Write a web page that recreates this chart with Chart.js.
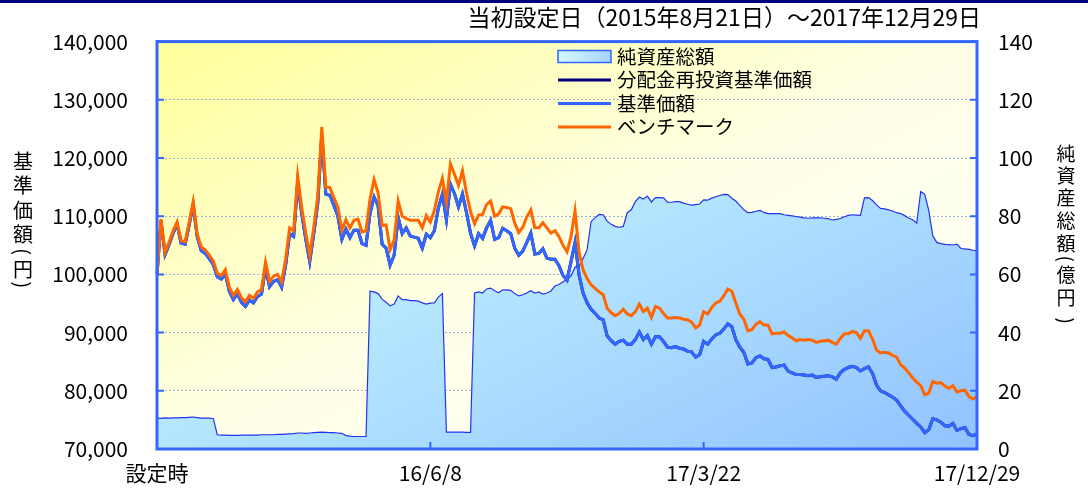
<!DOCTYPE html>
<html><head><meta charset="utf-8">
<script src="https://cdn.jsdelivr.net/npm/chart.js@4.4.1/dist/chart.umd.min.js"></script>
<style>html,body{margin:0;padding:0;background:#fff;}canvas{display:block;}</style>
</head><body>
<canvas id="c" width="1088" height="492" style="width:1088px;height:492px"></canvas>
<script>
const titleText = '当初設定日（2015年8月21日）～2017年12月29日';
const tickLabels = ['設定時', '16/6/8', '17/3/22', '17/12/29'];
const tickIndex = [0, 68, 136, 204];
const seriesNames = ['純資産総額', '分配金再投資基準価額', '基準価額', 'ベンチマーク'];
const leftAxisTitle = ['基', '準', '価', '額', '(', '円', ')'];
const rightAxisTitle = ['純', '資', '産', '総', '額', '(', '億', '円', ')'];

// 純資産総額（億円）
const netAssets = [
10.6,10.5,10.7,10.6,10.7,10.7,10.8,10.8,10.9,11.0,
10.8,10.6,10.6,10.6,10.5,4.9,4.8,4.8,4.7,4.7,
4.7,4.8,4.8,4.8,4.8,4.8,4.9,4.9,4.9,4.9,
5.0,5.0,5.1,5.2,5.3,5.5,5.5,5.4,5.5,5.6,
5.7,5.8,5.7,5.6,5.6,5.5,5.4,4.6,4.4,4.3,
4.3,4.3,4.3,54.2,54.0,53.4,51.5,50.4,49.2,49.8,
52.6,51.3,51.3,51.0,51.0,50.8,50.2,49.8,50.1,50.2,
52.2,53.4,5.8,5.8,5.8,5.8,5.8,5.7,5.7,53.6,
54.0,53.6,55.0,55.3,54.4,53.7,54.7,54.7,54.5,53.4,
52.6,53.0,53.6,54.4,53.6,54.0,53.2,53.6,54.3,56.0,
56.5,57.5,58.2,59.5,62.5,62.8,65.5,68.5,78.2,
79.5,80.6,80.5,78.3,77.2,76.5,76.2,76.5,81.2,82.2,
85.0,86.6,85.9,86.9,84.9,86.4,86.4,86.3,84.8,84.8,
85.0,85.0,84.5,84.1,83.8,84.0,84.2,85.6,85.5,86.2,
86.7,87.1,87.5,87.4,86.2,85.2,83.7,82.2,81.2,81.3,
81.7,82.0,81.3,80.9,80.9,80.9,80.9,80.5,80.3,80.1,
79.9,79.7,79.4,79.3,79.4,79.4,79.4,79.3,79.2,78.7,
78.9,79.2,79.8,80.3,80.5,80.4,80.3,86.3,86.4,85.4,
83.9,82.7,82.5,82.2,81.8,81.2,80.9,80.2,79.4,78.8,
77.6,88.5,87.5,82.0,73.3,71.0,70.6,70.3,70.2,70.1,
70.4,68.9,68.8,68.6,68.3,68.1
];

// 基準価額（円）
const nav = [
100000,109200,103400,105100,107100,108600,105400,105200,108500,112000,
106500,104100,103600,102700,101700,99600,99200,100100,97100,95700,
96700,95200,94500,95600,95100,96200,96600,101200,97900,98800,
99100,97800,101600,107000,106500,115900,110500,106100,102200,107000,
112300,124000,113800,113600,111900,110000,106000,107800,106300,107600,
107600,105300,105000,110500,113300,111800,105200,104500,101600,103300,
109800,107000,108000,106600,106400,106200,104500,106900,106300,107500,
111400,113800,109400,115500,113900,111600,113800,110600,107100,104900,
107000,106200,108000,109300,106000,106300,107900,107500,107000,104500,
103300,104000,105500,107100,103500,103600,104400,102800,102600,102600,
101500,99800,99000,102200,105500,99900,96800,95100,94000,
93300,92500,92200,89400,88600,88000,88500,88700,88000,88000,
88800,90100,88800,89500,88000,89300,89300,88500,87500,87400,
87600,87300,87200,86800,86700,85800,86200,88500,88000,88900,
89600,89900,90600,91500,91000,88800,87500,86600,84600,84800,
85700,86000,85500,85400,84000,84100,84300,84400,83400,83100,
82800,82800,82700,82600,82700,82300,82400,82500,82600,82400,
82000,83100,83700,84000,84200,84000,83400,83800,84100,83000,
81000,80000,79700,79300,78900,78400,77400,76500,75800,75100,
74400,73800,72800,73300,75200,75000,74600,74000,73900,74400,
73200,73500,73700,72500,72300,72600
];

// 分配金再投資基準価額（円）: no distributions, identical to 基準価額 in the chart
const navReinvested = nav.slice();

// ベンチマーク
const benchmark = [
100000,109500,103800,105500,107500,109000,105800,105600,108900,112500,
107000,104700,104200,103300,102300,100200,99800,100800,97800,96400,
97400,96000,95300,96400,95900,97000,97400,102100,98800,99700,
100000,98700,102600,108000,107500,116900,111500,107200,103300,108100,
113500,125300,115000,114900,113200,111500,107600,109400,108000,109300,
109500,107300,107500,113000,116300,114000,108400,108500,104300,105900,
112600,110000,109600,109300,109300,109300,108000,110100,109000,111000,
114200,116500,112400,119000,117200,115300,117800,114000,110800,108700,
110200,110300,112000,112600,110000,110400,111600,111500,111300,108800,
107200,108100,109900,111100,108000,108000,108900,108000,107100,107500,
106500,105000,103900,106500,110900,103800,100800,99300,98200,
97600,97000,96500,94200,93400,92900,93300,94000,93200,92900,
93600,94900,93600,94200,92600,94500,94200,93300,92500,92500,
92600,92500,92300,92200,91800,90800,91300,93600,93200,94300,
95100,95400,96300,97500,97100,95100,93200,92300,90300,90500,
91400,91900,91300,91300,89800,89900,89900,90100,89500,89100,
88600,88800,88700,88800,88700,88300,88500,88600,88700,88300,
88000,89000,89800,89800,90200,90000,89000,90300,90300,88900,
87000,86500,86600,86500,86100,85800,84500,83900,83100,82200,
81500,80900,79300,79600,81600,81300,81400,80800,80400,80900,
79800,80000,80100,79000,78600,79000
];

const labels = benchmark.map((_, i) => {
  const k = tickIndex.indexOf(i);
  return k >= 0 ? tickLabels[k] : '';
});

const FONT = '"Noto Sans CJK JP", "Noto Sans", sans-serif';
const BORDER_BLUE = '#3366FF';

function diagGrad(ctx, a) {
  const W = a.right - a.left, H = a.bottom - a.top;
  const k = 2 * W * H / (W * W + H * H);
  return ctx.createLinearGradient(a.left, a.top, a.left + H * k, a.top + W * k);
}

function areaFill(context) {
  const chart = context.chart;
  const a = chart.chartArea;
  if (!a) return '#B8E8FF';
  const g = diagGrad(chart.ctx, a);
  g.addColorStop(0, '#CCF8FF');
  g.addColorStop(0.5, '#B4E6FF');
  g.addColorStop(1, '#92C2FF');
  return g;
}

const decor = {
  id: 'decor',
  beforeDraw(chart) {
    const { ctx, chartArea: a } = chart;
    ctx.save();
    ctx.fillStyle = '#ffffff';
    ctx.fillRect(0, 0, chart.width, chart.height);
    ctx.fillStyle = '#000080';
    ctx.fillRect(0, 0, chart.width, 3);
    const g = diagGrad(ctx, a);
    g.addColorStop(0, '#FFFF99');
    g.addColorStop(0.5, '#FFFFE6');
    g.addColorStop(1, '#FFFFFF');
    ctx.fillStyle = g;
    ctx.fillRect(a.left, a.top, a.right - a.left, a.bottom - a.top);
    ctx.restore();
  },
  afterDatasetsDraw(chart) {
    const { ctx, chartArea: a } = chart;
    ctx.save();
    ctx.strokeStyle = BORDER_BLUE;
    ctx.lineWidth = 2;
    const ys = chart.scales.y;
    ys.ticks.forEach(t => {
      const y = ys.getPixelForValue(t.value);
      ctx.beginPath();
      ctx.moveTo(a.left, y); ctx.lineTo(a.left + 7, y);
      ctx.moveTo(a.right - 7, y); ctx.lineTo(a.right, y);
      ctx.stroke();
    });
    const xs = chart.scales.x;
    tickIndex.slice(1, -1).forEach(i => {
      const x = xs.getPixelForValue(i);
      ctx.beginPath();
      ctx.moveTo(x, a.bottom); ctx.lineTo(x, a.bottom - 7);
      ctx.stroke();
    });
    ctx.lineWidth = 3;
    ctx.strokeRect(a.left, a.top, a.right - a.left, a.bottom - a.top);
    ctx.restore();
  },
  afterDraw(chart) {
    const { ctx } = chart;
    ctx.save();
    ctx.fillStyle = '#000';
    // title
    ctx.font = '23px ' + FONT;
    ctx.textAlign = 'right';
    ctx.textBaseline = 'middle';
    ctx.fillText(titleText, 981, 17);
    // vertical axis titles
    const drawVertical = (chars, x, ys, size) => {
      ctx.font = size + 'px ' + FONT;
      ctx.textAlign = 'center';
      ctx.textBaseline = 'middle';
      chars.forEach((ch, i) => {
        if (ch === '(' || ch === ')') {
          ctx.save();
          ctx.translate(x, ys[i]);
          ctx.rotate(Math.PI / 2);
          ctx.fillText(ch, 0, 0);
          ctx.restore();
        } else {
          ctx.fillText(ch, x, ys[i]);
        }
      });
    };
    drawVertical(leftAxisTitle, 23, [161.7, 185.7, 210, 234, 251.7, 269, 285], 20);
    drawVertical(rightAxisTitle, 1066, [153.3, 175.3, 198, 220.7, 243.3, 258.7, 275, 297.3, 320.7], 19);
    // legend
    const rows = [56.5, 80, 103.5, 127];
    const x0 = 558, x1 = 611;
    chart.data.datasets.forEach((ds, i) => {
      const y = rows[i];
      if (i === 0) {
        const g = ctx.createLinearGradient(x0, 0, x1, 0);
        g.addColorStop(0, '#D6F8FF');
        g.addColorStop(1, '#A6D4FF');
        ctx.fillStyle = g;
        ctx.fillRect(x0, y - 6, x1 - x0, 12);
        ctx.strokeStyle = BORDER_BLUE;
        ctx.lineWidth = 1.5;
        ctx.strokeRect(x0, y - 6, x1 - x0, 12);
      } else {
        ctx.strokeStyle = ds.borderColor;
        ctx.lineWidth = 3;
        ctx.beginPath();
        ctx.moveTo(x0, y); ctx.lineTo(x1, y);
        ctx.stroke();
      }
      ctx.fillStyle = '#000';
      ctx.font = '19.5px ' + FONT;
      ctx.textAlign = 'left';
      ctx.textBaseline = 'middle';
      ctx.fillText(ds.label, 617, y);
    });
    ctx.restore();
  }
};

new Chart(document.getElementById('c'), {
  type: 'line',
  data: {
    labels: labels,
    datasets: [
      { label: seriesNames[0], data: netAssets, yAxisID: 'y2', borderColor: '#2233EE', borderWidth: 1.2,
        fill: 'origin', backgroundColor: areaFill, order: 3 },
      { label: seriesNames[1], data: navReinvested, yAxisID: 'y', borderColor: '#000080', borderWidth: 3, fill: false, order: 2 },
      { label: seriesNames[2], data: nav, yAxisID: 'y', borderColor: '#3366FF', borderWidth: 3, fill: false, order: 1 },
      { label: seriesNames[3], data: benchmark, yAxisID: 'y', borderColor: '#FF6600', borderWidth: 3, fill: false, order: 0 }
    ]
  },
  options: {
    responsive: false,
    animation: false,
    devicePixelRatio: 1,
    layout: { padding: { top: 38, left: 0, right: 0, bottom: 0 } },
    elements: { point: { radius: 0 }, line: { tension: 0 } },
    plugins: { legend: { display: false }, tooltip: { enabled: false }, title: { display: false } },
    scales: {
      x: {
        type: 'category',
        offset: false,
        grid: { display: false, drawTicks: false },
        border: { display: false },
        ticks: { autoSkip: false, maxRotation: 0, minRotation: 0, padding: 11, color: '#000',
                 font: { family: FONT, size: 21 } },
        afterBuildTicks: (scale) => { scale.ticks = tickIndex.map(v => ({ value: v })); },
        afterFit: (scale) => { scale.height = 43; }
      },
      y: {
        position: 'left',
        min: 70000, max: 140000,
        grid: { color: '#9DB0D8', lineWidth: 1, drawTicks: false },
        border: { display: false, dash: [2, 2] },
        ticks: { stepSize: 10000, padding: 29, color: '#000', font: { family: FONT, size: 21 },
                 callback: (v) => v.toLocaleString('en-US') },
        afterFit: (scale) => { scale.width = 157; }
      },
      y2: {
        position: 'right',
        min: 0, max: 140,
        grid: { drawOnChartArea: false, drawTicks: false },
        border: { display: false },
        ticks: { stepSize: 20, padding: 21, color: '#000', font: { family: FONT, size: 21 } },
        afterFit: (scale) => { scale.width = 111; }
      }
    }
  },
  plugins: [decor]
});
</script>
</body></html>
